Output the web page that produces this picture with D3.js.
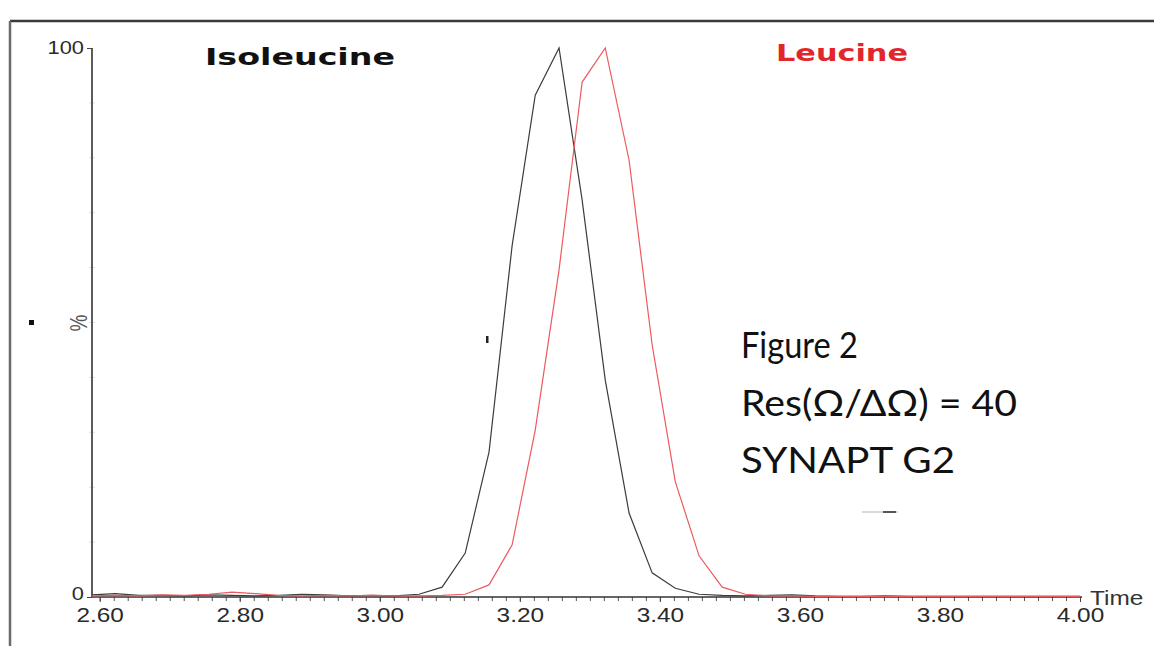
<!DOCTYPE html>
<html>
<head>
<meta charset="utf-8">
<script src="https://cdn.jsdelivr.net/npm/d3@7"></script>
<style>
  html, body { margin: 0; padding: 0; background: #fff; }
  svg { display: block; }
</style>
</head>
<body>
<svg id="chart" width="1154" height="646"></svg>
<script>
// ---- data ----
const times = [2.589, 2.622, 2.656, 2.689, 2.722, 2.756, 2.789, 2.822, 2.856, 2.889,
               2.922, 2.956, 2.989, 3.022, 3.056, 3.089, 3.122, 3.156, 3.189, 3.222,
               3.256, 3.289, 3.322, 3.356, 3.389, 3.422, 3.456, 3.489, 3.522, 3.556,
               3.589, 3.622, 3.656, 3.689, 3.722, 3.756, 3.789, 3.822, 3.856, 3.889,
               3.922, 3.956, 3.989, 4.000];
const isoleucine = [0.4, 0.6, 0.3, 0.3, 0.2, 0.4, 0.3, 0.2, 0.3, 0.5,
                    0.4, 0.2, 0.3, 0.2, 0.5, 1.8, 8.0, 26.4, 64.0, 91.4,
                    100, 72.3, 39.5, 15.3, 4.4, 1.6, 0.5, 0.3, 0.2, 0.3,
                    0.4, 0.2, 0.1, 0.1, 0.2, 0.1, 0.1, 0.1, 0.1, 0.1,
                    0.1, 0.1, 0.1, 0.1];
const leucine = [0.2, 0.3, 0.2, 0.4, 0.3, 0.5, 0.9, 0.6, 0.3, 0.2,
                 0.3, 0.2, 0.3, 0.2, 0.2, 0.3, 0.5, 2.2, 9.5, 30.4,
                 59.6, 93.8, 100, 79.6, 45.9, 21.0, 7.5, 1.8, 0.5, 0.2,
                 0.2, 0.1, 0.1, 0.1, 0.1, 0.1, 0.1, 0.1, 0.1, 0.1,
                 0.1, 0.1, 0.1, 0.1];
const xMajorTicks = [2.6, 2.8, 3.0, 3.2, 3.4, 3.6, 3.8, 4.0];
const xTickLabels = ["2.60", "2.80", "3.00", "3.20", "3.40", "3.60", "3.80", "4.00"];
const yTicks = [0, 100];
const yTickLabels = ["0", "100"];
const seriesNames = ["Isoleucine", "Leucine"];
const annotationLines = ["Figure 2", "Res(\u03A9/\u0394\u03A9) = 40", "SYNAPT G2"];

// ---- layout ----
const svg = d3.select("#chart");
const x = d3.scaleLinear().domain([2.589, 4.0]).range([92, 1080]);
const y = d3.scaleLinear().domain([0, 100]).range([597, 48]);
const axisFont = "'Liberation Sans', Arial, sans-serif";

// outer frame (top and left edges)
svg.append("line").attr("x1", 10).attr("x2", 1154).attr("y1", 21).attr("y2", 21)
  .attr("stroke", "#3a3a3a").attr("stroke-width", 2.5);
svg.append("line").attr("x1", 10).attr("x2", 10).attr("y1", 21).attr("y2", 646)
  .attr("stroke", "#6a6a6a").attr("stroke-width", 2.5);

// faint minor y ticks
const yMinor = d3.range(10, 100, 10);
svg.append("g").selectAll("line").data(yMinor).join("line")
  .attr("x1", 89).attr("x2", 95)
  .attr("y1", d => y(d)).attr("y2", d => y(d))
  .attr("stroke", "#e2e2e2").attr("stroke-width", 1);

// x axis: minor ticks
const xMinor = d3.range(0, 71).map(i => 2.6 + i * 0.02);
const gxMinor = svg.append("g").attr("transform", `translate(0,${y(0)})`)
  .call(d3.axisBottom(x).tickValues(xMinor).tickSize(4).tickFormat(""));
gxMinor.select(".domain").remove();
gxMinor.selectAll(".tick line").attr("stroke", "#555").attr("stroke-width", 1);

// x axis: major ticks + labels
const gx = svg.append("g").attr("transform", `translate(0,${y(0)})`)
  .call(d3.axisBottom(x).tickValues(xMajorTicks).tickSize(5)
        .tickFormat((d, i) => xTickLabels[i]));
gx.select(".domain").attr("d", `M${x.range()[0]},0H1082`).attr("stroke", "#333").attr("stroke-width", 1.6);
gx.selectAll(".tick line").attr("stroke", "#444");
gx.selectAll(".tick text")
  .attr("y", 25).attr("dy", null)
  .attr("transform", "scale(1.22,1)")
  .attr("font-family", axisFont).attr("font-size", 20).attr("fill", "#2a2a2a");

// y axis
const gy = svg.append("g").attr("transform", `translate(${x.range()[0]},0)`)
  .call(d3.axisLeft(y).tickValues(yTicks).tickSize(5)
        .tickFormat((d, i) => yTickLabels[i]));
gy.select(".domain").attr("d", `M0,${y(0)}V${y(100)}`).attr("stroke", "#333").attr("stroke-width", 1.6);
gy.selectAll(".tick line").attr("stroke", "#444");
gy.selectAll(".tick text")
  .attr("x", -7).attr("dy", (d) => d === 0 ? "0.15em" : "0.3em")
  .attr("transform", "scale(1.15,1)")
  .attr("font-family", axisFont).attr("font-size", 19).attr("fill", "#2a2a2a");

// axis titles
svg.append("text").attr("transform", "translate(1090,605) scale(1.22,1)")
  .attr("font-family", axisFont).attr("font-size", 20).attr("fill", "#333")
  .text("Time");
svg.append("text").attr("transform", "translate(87,323) scale(1.3,1) rotate(-90)")
  .attr("text-anchor", "middle")
  .attr("font-family", axisFont).attr("font-size", 19).attr("fill", "#555")
  .text("%");

// small artefact marks
svg.append("rect").attr("x", 29).attr("y", 320).attr("width", 5).attr("height", 5).attr("fill", "#111");
svg.append("rect").attr("x", 486).attr("y", 336).attr("width", 2.5).attr("height", 7).attr("fill", "#222");
svg.append("line").attr("x1", 862).attr("x2", 898).attr("y1", 512).attr("y2", 512)
  .attr("stroke", "#ccc").attr("stroke-width", 1.5);
svg.append("line").attr("x1", 883).attr("x2", 896).attr("y1", 512).attr("y2", 512)
  .attr("stroke", "#555").attr("stroke-width", 2);

// series lines
const line = d3.line().x(d => x(d[0])).y(d => y(d[1]));
const isoData = times.map((t, i) => [t, isoleucine[i]]);
const leuData = times.map((t, i) => [t, leucine[i]]);
svg.append("path").datum(isoData).attr("d", line)
  .attr("fill", "none").attr("stroke", "#3c3c3c").attr("stroke-width", 1.2);
svg.append("path").datum(leuData).attr("d", line)
  .attr("fill", "none").attr("stroke", "#ec5a5e").attr("stroke-width", 1.2);

// series labels
svg.append("text").attr("x", 205).attr("y", 65)
  .attr("font-family", "'DejaVu Sans', Verdana, sans-serif").attr("font-weight", "bold")
  .attr("font-size", 23).attr("fill", "#111")
  .attr("textLength", 190).attr("lengthAdjust", "spacingAndGlyphs")
  .text(seriesNames[0]);
svg.append("text").attr("x", 776).attr("y", 61)
  .attr("font-family", "'DejaVu Sans', Verdana, sans-serif").attr("font-weight", "bold")
  .attr("font-size", 23).attr("fill", "#e2262b")
  .attr("textLength", 132).attr("lengthAdjust", "spacingAndGlyphs")
  .text(seriesNames[1]);

// annotation block
const annWidths = [117, 276, 214];
const annBaselines = [358, 416, 473];
svg.append("g").selectAll("text").data(annotationLines).join("text")
  .attr("x", 741).attr("y", (d, i) => annBaselines[i])
  .attr("font-family", "Lato, 'Open Sans', sans-serif").attr("font-size", 37).attr("fill", "#111")
  .attr("textLength", (d, i) => annWidths[i]).attr("lengthAdjust", "spacingAndGlyphs")
  .text(d => d);
</script>
</body>
</html>
